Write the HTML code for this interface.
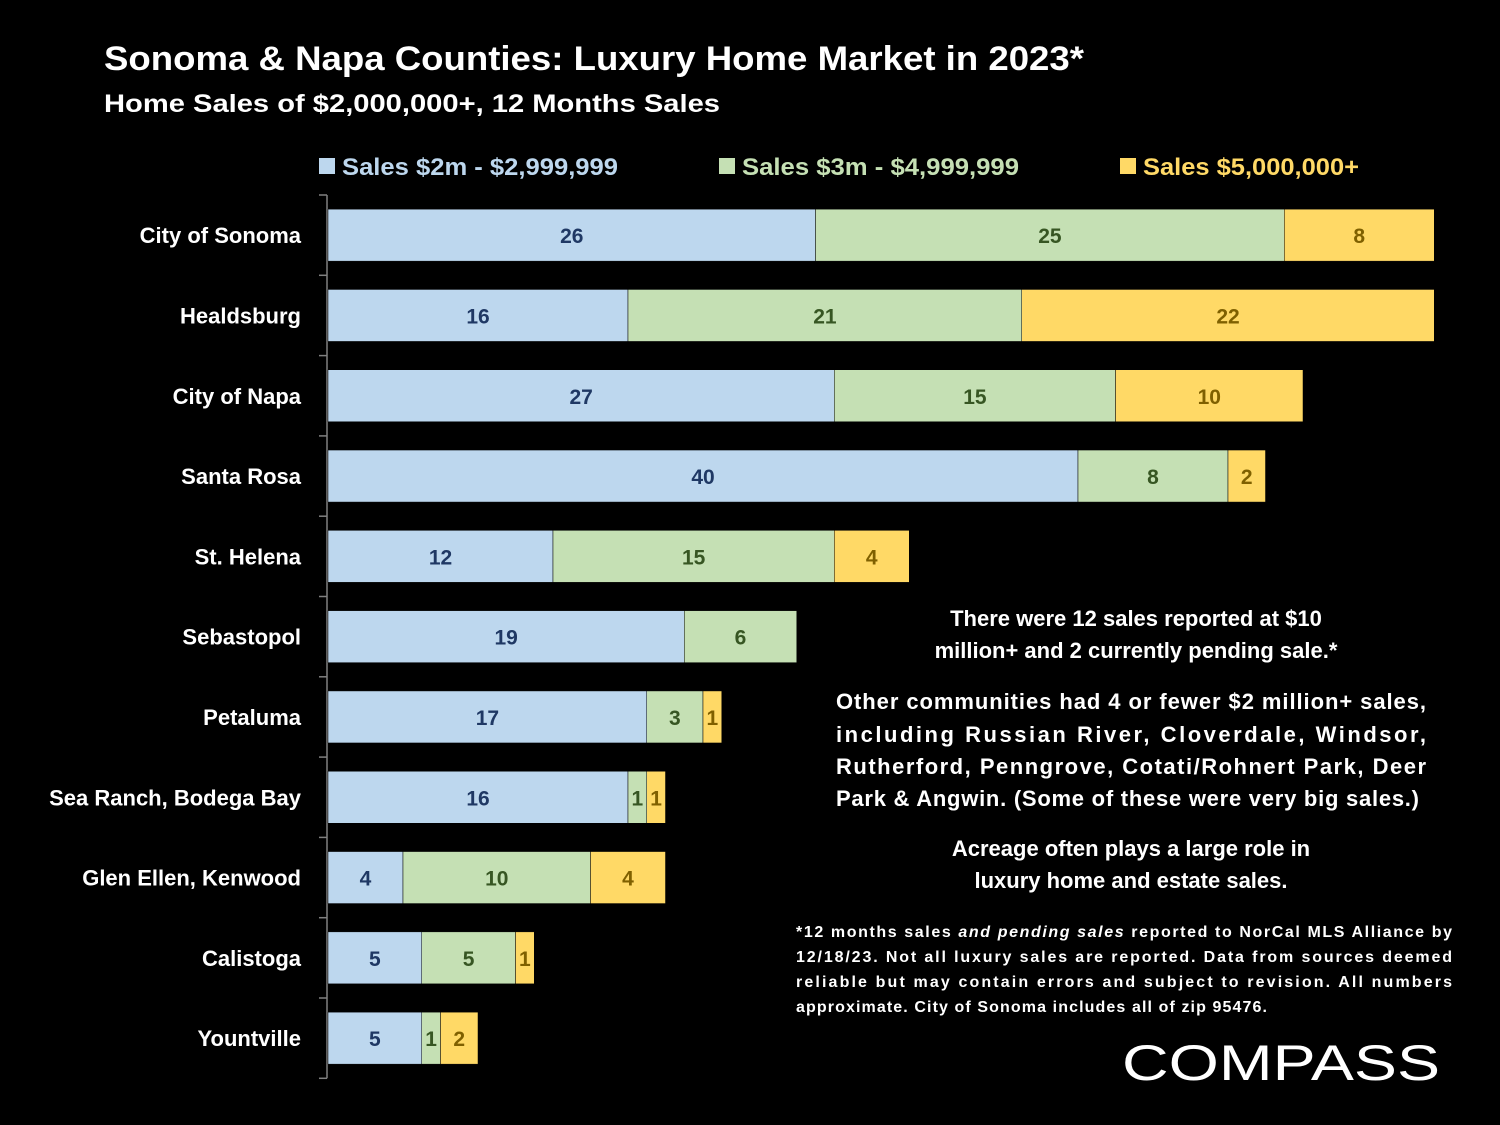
<!DOCTYPE html>
<html><head><meta charset="utf-8"><style>
html,body{margin:0;padding:0;background:#000;}
svg{display:block;font-family:"Liberation Sans",sans-serif;font-weight:bold;}
</style></head><body>
<svg id="c" width="1500" height="1125" viewBox="0 0 1500 1125">
<rect width="1500" height="1125" fill="#000"/>
<text x="104" y="70" fill="#fff" font-size="34" textLength="980" lengthAdjust="spacingAndGlyphs">Sonoma &amp; Napa Counties: Luxury Home Market in 2023*</text>
<text x="104" y="112" fill="#fff" font-size="25" textLength="616" lengthAdjust="spacingAndGlyphs">Home Sales of $2,000,000+, 12 Months Sales</text>
<g>
<rect x="319" y="158" width="16" height="16" fill="#bdd7ee"/>
<text x="342" y="175" fill="#bdd7ee" font-size="24" textLength="276" lengthAdjust="spacingAndGlyphs">Sales $2m - $2,999,999</text>
<rect x="719" y="158" width="16" height="16" fill="#c5e0b4"/>
<text x="742" y="175" fill="#c5e0b4" font-size="24" textLength="277" lengthAdjust="spacingAndGlyphs">Sales $3m - $4,999,999</text>
<rect x="1120" y="158" width="16" height="16" fill="#ffd966"/>
<text x="1143" y="175" fill="#ffd966" font-size="24" textLength="216" lengthAdjust="spacingAndGlyphs">Sales $5,000,000+</text>
</g>
<g id="plot"></g>
<g fill="#fff" font-size="22">
<text x="1136" y="626" text-anchor="middle">There were 12 sales reported at $10</text>
<text x="1136" y="658" text-anchor="middle">million+ and 2 currently pending sale.*</text>
<text x="836" y="709" textLength="590" lengthAdjust="spacing">Other communities had 4 or fewer $2 million+ sales,</text>
<text x="836" y="742" textLength="590" lengthAdjust="spacing">including   Russian   River,   Cloverdale,   Windsor,</text>
<text x="836" y="774" textLength="590" lengthAdjust="spacing">Rutherford, Penngrove, Cotati/Rohnert Park, Deer</text>
<text x="836" y="806" textLength="583" lengthAdjust="spacing">Park &amp; Angwin. (Some of these were very big sales.)</text>
<text x="1131" y="856" text-anchor="middle">Acreage often plays a large role in</text>
<text x="1131" y="888" text-anchor="middle">luxury home  and estate sales.</text>
</g>
<g fill="#fff" font-size="16">
<text x="796" y="937" textLength="656" lengthAdjust="spacing">*12 months sales <tspan font-style="italic">and pending sales</tspan> reported to NorCal MLS Alliance by</text>
<text x="796" y="962" textLength="656" lengthAdjust="spacing">12/18/23. Not all luxury sales are reported. Data from  sources deemed</text>
<text x="796" y="987" textLength="656" lengthAdjust="spacing">reliable but may contain errors and subject to revision. All numbers</text>
<text x="796" y="1012" textLength="471" lengthAdjust="spacing">approximate.  City of Sonoma includes all of zip 95476.</text>
</g>
<text x="1122" y="1080" fill="#fff" font-size="50" font-weight="normal" textLength="318" lengthAdjust="spacingAndGlyphs">COMPASS</text>
</svg>
<script>
const categories=["City of Sonoma","Healdsburg","City of Napa","Santa Rosa","St. Helena","Sebastopol","Petaluma","Sea Ranch, Bodega Bay","Glen Ellen, Kenwood","Calistoga","Yountville"];
const sales2m=[26,16,27,40,12,19,17,16,4,5,5];
const sales3m=[25,21,15,8,15,6,3,1,10,5,1];
const sales5m=[8,22,10,2,4,0,1,1,4,1,2];
const NS="http://www.w3.org/2000/svg";
const plot=document.getElementById('plot');
const x0=328,unit=18.75,top0=195,band=80.3,barH=52;
const xs=v=>x0+v*unit;
const yc=i=>top0+band*(i+0.5);
function mk(t,a){const e=document.createElementNS(NS,t);for(const k in a)e.setAttribute(k,a[k]);plot.appendChild(e);return e;}
const axis=mk('line',{x1:327,y1:top0,x2:327,y2:top0+band*categories.length,stroke:'#808080','stroke-width':1.5});


for(let i=0;i<=categories.length;i++){
  const t=mk('line',{x1:319,x2:327,y1:top0+band*i,y2:top0+band*i,stroke:'#808080','stroke-width':1.5});
  
  
}
const series=[[sales2m,'#bdd7ee','#1f3864','2m'],[sales3m,'#c5e0b4','#375623','3m'],[sales5m,'#ffd966','#7f6000','5m']];
categories.forEach((c,i)=>{
  const lab=mk('text',{x:301,y:yc(i)+8,'text-anchor':'end',fill:'#fff','font-size':22});
  lab.textContent=c;
  
  
  let acc=0;
  series.forEach(([arr,fill,tc,nm])=>{
    const v=arr[i];if(!v)return;
    const r=mk('rect',{x:xs(acc),y:yc(i)-barH/2,width:xs(acc+v)-xs(acc),height:barH,fill:fill,stroke:'#000','stroke-width':0.5});
    
    
    const tx=mk('text',{x:(xs(acc)+xs(acc+v))/2,y:yc(i)+8,'text-anchor':'middle',fill:tc,'font-size':21});
    tx.textContent=v;
    
    
    acc+=v;
  });
});
</script>
</body></html>
